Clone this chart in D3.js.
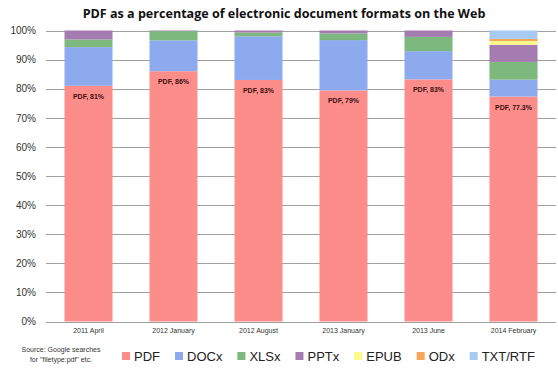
<!DOCTYPE html>
<html><head><meta charset="utf-8">
<script src="https://cdn.jsdelivr.net/npm/d3@7"></script>
<style>body{margin:0;background:#fff} svg{display:block}</style>
</head><body>
<svg id="c" width="558" height="368"></svg>
<script>
const categories = ["2011 April","2012 January","2012 August","2013 January","2013 June","2014 February"];
const formats = ["PDF","DOCx","XLSx","PPTx","EPUB","ODx","TXT/RTF"];
const pdf  = [81, 86, 83, 79.4, 83.2, 77.3];
const docx = [13.3, 10.6, 15, 17.3, 9.7, 5.8];
const xlsx = [2.6, 3.2, 1.3, 2.3, 4.9, 6.1];
const pptx = [3.1, 0.2, 0.7, 1.0, 2.2, 5.9];
const epub = [0, 0, 0, 0, 0, 1.3];
const odx  = [0, 0, 0, 0, 0, 0.7];
const txt  = [0, 0, 0, 0, 0, 2.9];
const pdfLabels = ["PDF, 81%","PDF, 86%","PDF, 83%","PDF, 79%","PDF, 83%","PDF, 77.3%"];
const yTicks = [0,10,20,30,40,50,60,70,80,90,100];
const title = "PDF as a percentage of electronic document formats on the Web";
const sourceLines = ["Source: Google searches", "for \"filetype:pdf\" etc."];

const colors = ["#fc8d8a","#8eaaee","#7db87e","#a57caf","#fbf98a","#f4a75a","#a8c9f1"];
const seriesVals = [pdf, docx, xlsx, pptx, epub, odx, txt];

const svg = d3.select("#c");
const FONT = "'Liberation Sans', Arial, sans-serif";

const x = d3.scaleBand().domain(categories).range([46, 556]).paddingInner(0.435).paddingOuter(0.2175);
const y = d3.scaleLinear().domain([0, 100]).range([321.5, 30.5]);

// title
const t = svg.append("text").attr("x", 284).attr("y", 18).attr("text-anchor", "middle")
  .attr("font-family", "'Open Sans', sans-serif").attr("font-weight", "bold").attr("font-size", 14)
  .attr("fill", "#111").text(title);
const tw = t.node().getComputedTextLength();
t.attr("font-size", 14 * 403 / tw);

// grid
svg.append("g").selectAll("line").data(yTicks).join("line")
  .attr("x1", 46).attr("x2", 556).attr("y1", d => Math.round(y(d)) + 0.5).attr("y2", d => Math.round(y(d)) + 0.5)
  .attr("stroke", "#a0a0a0").attr("stroke-width", 1);

// y axis labels
const yAxis = d3.axisLeft(y).tickValues(yTicks).tickFormat(d => d + "%").tickSize(0).tickPadding(0);
const ga = svg.append("g").attr("transform", "translate(36,0)").call(yAxis);
ga.select(".domain").remove();
ga.selectAll("text").attr("font-family", FONT).attr("font-size", 10).attr("fill", "#333");

// stacked bars
const rows = categories.map((c, i) => { const o = {cat: c}; formats.forEach((f, k) => o[f] = seriesVals[k][i]); return o; });
const stack = d3.stack().keys(formats)(rows);
svg.append("g").selectAll("g").data(stack).join("g").attr("fill", (d, k) => colors[k])
  .selectAll("rect").data(d => d).join("rect")
  .attr("x", d => x(d.data.cat)).attr("width", x.bandwidth())
  .attr("y", d => y(d[1])).attr("height", d => Math.max(0, y(d[0]) - y(d[1])));

// PDF labels
svg.append("g").selectAll("text").data(categories).join("text")
  .attr("x", d => x(d) + x.bandwidth() / 2).attr("y", (d, i) => y(pdf[i]) + 13)
  .attr("text-anchor", "middle").attr("font-family", FONT).attr("font-weight", "bold")
  .attr("font-size", 7).attr("fill", "#3d1010").text((d, i) => pdfLabels[i]);

// x labels
const xAxis = d3.axisBottom(x).tickSize(0).tickPadding(0);
const gx = svg.append("g").attr("transform", "translate(0,328)").call(xAxis);
gx.select(".domain").remove();
gx.selectAll("text").attr("font-family", FONT).attr("font-size", 7).attr("fill", "#333");

// source
svg.append("g").selectAll("text").data(sourceLines).join("text")
  .attr("x", 61).attr("y", (d, i) => 352 + i * 9.5).attr("text-anchor", "middle")
  .attr("font-family", FONT).attr("font-size", 7).attr("fill", "#333").text(d => d);

// legend
const lg = svg.append("g");
let lx = 122;
formats.forEach((f, k) => {
  lg.append("rect").attr("x", lx).attr("y", 352).attr("width", 8).attr("height", 8).attr("fill", colors[k]);
  const tt = lg.append("text").attr("x", lx + 12).attr("y", 361).attr("font-family", FONT)
    .attr("font-size", 13).attr("fill", "#222").text(f);
  lx += 12 + tt.node().getComputedTextLength() + 15;
});
</script>
</body></html>
